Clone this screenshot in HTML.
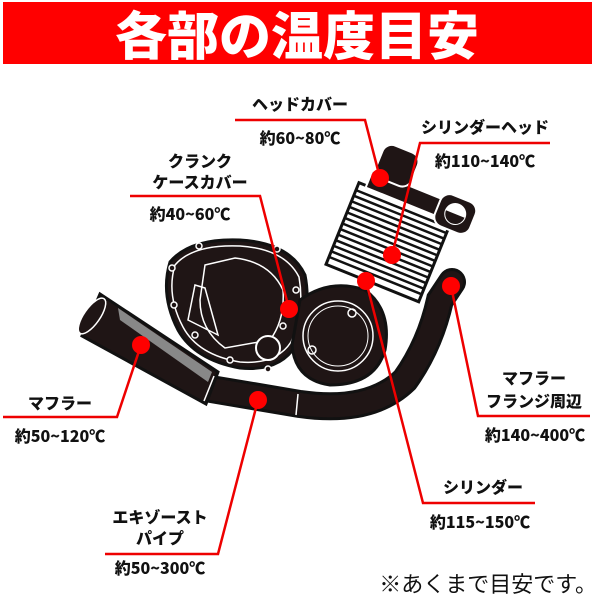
<!DOCTYPE html>
<html><head><meta charset="utf-8"><style>
html,body{margin:0;padding:0;background:#fff;}
svg{display:block;}
text{font-family:"Noto Sans CJK JP","Liberation Sans",sans-serif;font-weight:900;fill:#111;}
</style></head><body>
<svg width="600" height="600" viewBox="0 0 600 600" xmlns="http://www.w3.org/2000/svg">
<rect x="3" y="2" width="589" height="62" fill="#f00"/>
<text x="297" y="55" text-anchor="middle" font-size="52" style="fill:#fff">各部の温度目安</text>

<!-- exhaust pipe -->
<path d="M205,388 L300,404 Q370,414 405,380 Q430,345 440,300 L452,282" fill="none" stroke="#111" stroke-width="28" stroke-linecap="round"/>
<path d="M205,388 L300,404 Q370,414 405,380 Q430,345 440,300 L452,282" fill="none" stroke="#1f1515" stroke-width="22" stroke-linecap="round"/>
<!-- muffler -->
<polygon points="100,294 218,372 206,404 82,336" fill="#1f1515" stroke="#111" stroke-width="3"/>
<polygon points="118,308 212,372 208,382 120,320" fill="#888"/>
<ellipse cx="92" cy="316" rx="8" ry="21" transform="rotate(35 92 316)" fill="#1f1515" stroke="#fff" stroke-width="1.5"/>
<line x1="214" y1="376" x2="204" y2="401" stroke="#fff" stroke-width="1.5"/>
<line x1="298" y1="394" x2="296" y2="415" stroke="#fff" stroke-width="1.5"/>

<!-- crankcase cover -->
<path d="M170,262 Q190,238 240,240 Q290,243 305,275 Q312,310 296,345 Q280,372 240,368 Q195,360 178,330 Q160,295 170,262 Z" fill="#1f1515" stroke="#111" stroke-width="3"/>
<path d="M175,265 Q193,244 240,246 Q285,249 299,277 Q305,310 291,342 Q276,365 240,362 Q198,355 183,327 Q166,295 175,265 Z" fill="none" stroke="#fff" stroke-width="1.5"/>
<path d="M205,265 L235,258 Q270,262 283,290 Q285,320 270,340 L225,348 Q200,330 200,300 Z" fill="none" stroke="#fff" stroke-width="1.5"/>
<path d="M195,285 L205,288 L218,335 L188,320 Z" fill="none" stroke="#fff" stroke-width="1.5"/>
<circle cx="268" cy="348" r="12" fill="#1f1515" stroke="#fff" stroke-width="2"/>
<g fill="#1f1515" stroke="#fff" stroke-width="1.5">
<circle cx="199" cy="246" r="3"/><circle cx="277" cy="249" r="3"/><circle cx="172" cy="268" r="3"/><circle cx="296" cy="290" r="3"/><circle cx="174" cy="305" r="3"/><circle cx="195" cy="335" r="3"/><circle cx="230" cy="360" r="3"/><circle cx="268" cy="369" r="3"/><circle cx="283" cy="326" r="3"/>
</g>
<!-- crank round -->
<path d="M300,300 Q330,278 365,290 Q392,310 385,350 Q375,385 330,385 Q295,380 292,345 Z" fill="#1f1515" stroke="#111" stroke-width="3"/>
<circle cx="338" cy="336" r="35" fill="none" stroke="#fff" stroke-width="1.5"/>
<circle cx="338" cy="336" r="30" fill="none" stroke="#fff" stroke-width="1"/>
<circle cx="352" cy="313" r="4" fill="none" stroke="#fff" stroke-width="1.5"/>
<circle cx="312" cy="350" r="4" fill="none" stroke="#fff" stroke-width="1.5"/>

<!-- cylinder -->
<g transform="rotate(22 395 235)">
<rect x="342" y="200" width="100" height="88" fill="#fff" stroke="#111" stroke-width="3"/>
<g stroke="#111" stroke-width="2.5">
<line x1="342" y1="208" x2="442" y2="208"/><line x1="342" y1="214" x2="442" y2="214"/><line x1="342" y1="220" x2="442" y2="220"/><line x1="342" y1="226" x2="442" y2="226"/><line x1="342" y1="232" x2="442" y2="232"/><line x1="342" y1="238" x2="442" y2="238"/><line x1="342" y1="244" x2="442" y2="244"/><line x1="342" y1="250" x2="442" y2="250"/><line x1="342" y1="256" x2="442" y2="256"/><line x1="342" y1="262" x2="442" y2="262"/><line x1="342" y1="268" x2="442" y2="268"/><line x1="342" y1="274" x2="442" y2="274"/><line x1="342" y1="280" x2="442" y2="280"/>
</g>
<rect x="350" y="184" width="98" height="18" fill="#1f1515" stroke="#fff" stroke-width="2"/>
<rect x="352" y="152" width="38" height="36" rx="10" fill="#1f1515" stroke="#fff" stroke-width="2"/>
<rect x="424" y="176" width="38" height="34" rx="10" fill="#1f1515" stroke="#fff" stroke-width="2"/>
<circle cx="443" cy="193" r="11" fill="#fff"/><path d="M433,193 h20 a10,10 0 0 1 -20,0z" fill="#1f1515"/>
</g>

<!-- leader lines -->
<g stroke="#e00" stroke-width="2.5" fill="none">
<polyline points="235,120 365,120 380,178"/>
<polyline points="550,143 420,143 392,255"/>
<polyline points="130,196 260,196 289,309"/>
<polyline points="3,417 117,417 141,345"/>
<polyline points="105,554 218,554 258,400"/>
<polyline points="535,503 423,503 366,281"/>
<polyline points="590,416 478,416 451,286"/>
</g>
<g fill="#f00">
<circle cx="380" cy="178" r="9"/><circle cx="392" cy="255" r="9"/><circle cx="289" cy="309" r="9"/><circle cx="141" cy="345" r="9"/><circle cx="258" cy="400" r="9"/><circle cx="366" cy="281" r="9"/><circle cx="451" cy="286" r="9"/>
</g>

<g font-size="16" text-anchor="middle">
<text x="300" y="110">ヘッドカバー</text>
<text x="300" y="144">約60~80℃</text>
<text x="485" y="133">シリンダーヘッド</text>
<text x="485" y="167">約110~140℃</text>
<text x="200" y="167">クランク</text>
<text x="200" y="188">ケースカバー</text>
<text x="190" y="220">約40~60℃</text>
<text x="60" y="409">マフラー</text>
<text x="60" y="442">約50~120℃</text>
<text x="160" y="523">エキゾースト</text>
<text x="160" y="544">パイプ</text>
<text x="160" y="574">約50~300℃</text>
<text x="483" y="493">シリンダー</text>
<text x="480" y="528">約115~150℃</text>
<text x="534" y="384">マフラー</text>
<text x="534" y="407">フランジ周辺</text>
<text x="535" y="441">約140~400℃</text>
</g>
<text x="597" y="592" text-anchor="end" font-size="22" style="font-weight:normal">※あくまで目安です。</text>
</svg>
</body></html>
